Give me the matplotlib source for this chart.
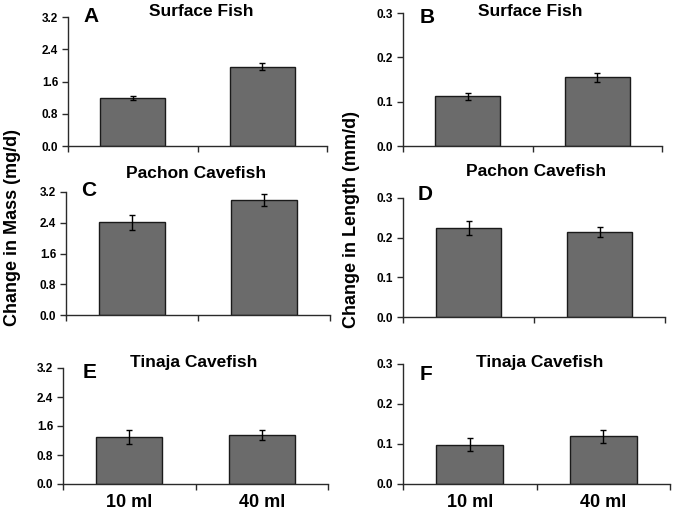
import matplotlib
matplotlib.use("Agg")
import matplotlib.pyplot as plt
from matplotlib.ticker import FixedLocator

plt.rcParams['font.family'] = ['Liberation Sans', 'DejaVu Sans']
plt.rcParams['font.weight'] = 'bold'

categories = ["10 ml", "40 ml"]

mass_surface = [1.20, 1.97]
mass_surface_err = [0.05, 0.08]
length_surface = [0.112, 0.155]
length_surface_err = [0.008, 0.010]
mass_pachon = [2.41, 2.99]
mass_pachon_err = [0.20, 0.15]
length_pachon = [0.224, 0.214]
length_pachon_err = [0.017, 0.012]
mass_tinaja = [1.30, 1.36]
mass_tinaja_err = [0.20, 0.14]
length_tinaja = [0.098, 0.119]
length_tinaja_err = [0.016, 0.016]

mass_ticks = [0.0, 0.8, 1.6, 2.4, 3.2]
mass_ticklabels = ["0.0", "0.8", "1.6", "2.4", "3.2"]
length_ticks = [0.0, 0.1, 0.2, 0.3]
length_ticklabels = ["0.0", "0.1", "0.2", "0.3"]

W, H = 675, 516
fig = plt.figure(figsize=(W / 100, H / 100), dpi=100)
fig.patch.set_facecolor('white')


def px_axes(left, right, top, bottom):
    return fig.add_axes([left / W, 1 - bottom / H, (right - left) / W, (bottom - top) / H])


def fx(x):
    return x / W


def fy(y):
    return 1 - y / H


panels = [
    ((68, 327, 17, 146), mass_surface, mass_surface_err, mass_ticks, mass_ticklabels, 3.2, False),
    ((403, 662, 13, 146), length_surface, length_surface_err, length_ticks, length_ticklabels, 0.3, False),
    ((66, 330, 192, 315), mass_pachon, mass_pachon_err, mass_ticks, mass_ticklabels, 3.2, False),
    ((403, 665, 198, 317), length_pachon, length_pachon_err, length_ticks, length_ticklabels, 0.3, False),
    ((63, 328, 368, 484), mass_tinaja, mass_tinaja_err, mass_ticks, mass_ticklabels, 3.2, True),
    ((403, 670, 364, 484), length_tinaja, length_tinaja_err, length_ticks, length_ticklabels, 0.3, True),
]

spine_color = '#2a2a2a'
for rect, vals, errs, ticks, tlabels, ymax, showx in panels:
    ax = px_axes(*rect)
    x = list(range(len(categories)))
    ax.bar(x, vals, width=0.5, color='#6b6b6b', edgecolor='#1a1a1a', linewidth=1.0, zorder=2)
    ax.errorbar(x, vals, yerr=errs, fmt='none', ecolor='black', elinewidth=1.0,
                capsize=2.5, capthick=1.0, zorder=3)
    ax.set_xlim(-0.5, 1.5)
    ax.set_ylim(0, ymax)
    ax.set_yticks(ticks)
    ax.set_yticklabels(tlabels, fontsize=8.5, fontweight='bold')
    ax.set_xticks(x)
    ax.xaxis.set_minor_locator(FixedLocator([-0.5, 0.5, 1.5]))
    ax.tick_params(axis='x', which='major', length=0, pad=7)
    ax.tick_params(axis='x', which='minor', length=4, direction='out', width=1, color=spine_color)
    ax.tick_params(axis='y', length=4, direction='out', width=1, color=spine_color, pad=3)
    if showx:
        ax.set_xticklabels(categories, fontsize=13, fontweight='bold')
    else:
        ax.set_xticklabels([])
    for s in ['top', 'right']:
        ax.spines[s].set_visible(False)
    for s in ['left', 'bottom']:
        ax.spines[s].set_color(spine_color)
        ax.spines[s].set_linewidth(1.0)
    ax.set_facecolor('none')

titles = [
    ("Surface Fish", 201, 11), ("Surface Fish", 530, 11),
    ("Pachon Cavefish", 196, 174), ("Pachon Cavefish", 536, 172),
    ("Tinaja Cavefish", 194, 362), ("Tinaja Cavefish", 540, 363),
]
for t, xx, yy in titles:
    fig.text(fx(xx), fy(yy), t, ha='center', va='center', fontsize=12.5, fontweight='bold')

letters = [("A", 91, 16), ("B", 427, 17), ("C", 89, 191), ("D", 425, 195), ("E", 90, 372), ("F", 426, 374)]
for t, xx, yy in letters:
    fig.text(fx(xx), fy(yy), t, ha='center', va='center', fontsize=15, fontweight='bold')

fig.text(fx(13), fy(228), "Change in Mass (mg/d)", rotation=90, ha='center', va='center',
         fontsize=13, fontweight='bold')
fig.text(fx(352), fy(220), "Change in Length (mm/d)", rotation=90, ha='center', va='center',
         fontsize=13, fontweight='bold')

fig.savefig("out.png", dpi=100, facecolor='white')
